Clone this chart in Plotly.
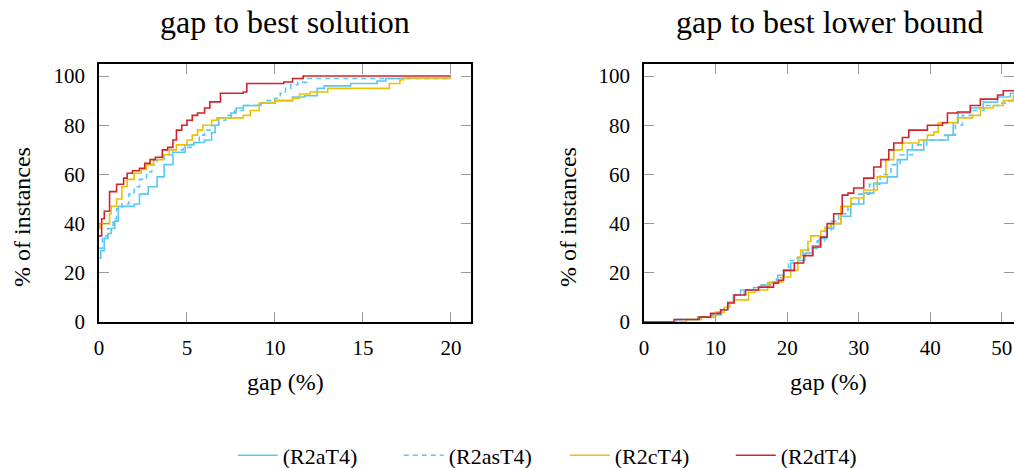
import plotly.graph_objects as go

# ---------------- data ----------------
series_names = ["(R2aT4)", "(R2asT4)", "(R2cT4)", "(R2dT4)"]

# left panel: gap to best solution
L_aT4_x = [0, 0.1, 0.3, 0.5, 0.7, 0.9, 1.1, 2.0, 2.3, 2.8, 3.3, 3.7, 4.2, 4.9, 5.4, 6.0, 6.4, 6.6, 6.8, 7.5, 7.8, 8.2, 9.2, 10.0, 11.0, 11.7, 12.4, 12.8, 14.3, 15.8, 16.3, 20.0]
L_aT4_y = [26, 29, 34, 36, 38, 41, 47, 48, 52, 55, 59, 64, 69, 72, 73, 74, 77, 80, 83, 85, 87, 88, 89, 90, 91.5, 92, 95, 96, 97, 98, 99, 99]

L_asT4_x = [0, 0.2, 0.5, 0.8, 1.0, 1.3, 1.7, 2.0, 2.3, 2.7, 3.0, 3.3, 3.7, 4.2, 4.8, 5.4, 5.7, 6.0, 6.4, 6.8, 7.2, 7.7, 8.2, 9.0, 9.5, 10.0, 10.3, 10.6, 10.9, 11.3, 11.8, 20.0]
L_asT4_y = [30, 35, 38, 42, 46, 48, 52, 55, 58, 61, 64, 66, 68, 70, 71, 73, 76, 78, 80, 82, 84, 86, 88, 89, 90, 91, 93, 95, 96.5, 97.5, 99, 99]

L_cT4_x = [0, 0.05, 0.6, 0.7, 1.0, 1.3, 1.6, 2.0, 2.4, 2.7, 3.1, 3.6, 4.0, 4.4, 5.0, 5.3, 5.6, 5.9, 6.4, 6.7, 8.2, 8.6, 9.1, 10.0, 11.0, 11.4, 12.0, 13.0, 16.1, 16.5, 17.1, 17.3, 20.0]
L_cT4_y = [38, 40, 44, 47, 50, 55, 58, 60.5, 62, 64, 66, 68, 70, 72, 74, 76, 78, 80, 82, 83, 84, 86, 89, 90, 91, 92.7, 93.5, 95, 95, 97, 98.4, 99.2, 99.2]

L_dT4_x = [0, 0.15, 0.3, 0.6, 1.0, 1.4, 1.6, 1.9, 2.3, 2.6, 2.9, 3.2, 3.6, 3.9, 4.2, 4.4, 4.7, 5.0, 5.3, 5.6, 6.0, 6.3, 6.9, 8.2, 8.4, 10.5, 11.0, 11.6, 20.0]
L_dT4_y = [35, 42, 45, 53, 56, 58.5, 60.5, 61.5, 62.5, 64.5, 66, 67, 70, 71, 74, 78, 80, 82, 84, 85, 87, 89.5, 93, 93.5, 97, 97.6, 99, 100, 100]

# right panel: gap to best lower bound
R_aT4_x = [0, 4.5, 7.5, 9.5, 10.8, 11.7, 12.5, 13.5, 15.3, 16.5, 17.7, 18.7, 19.6, 20.5, 21.5, 22.5, 23.5, 24.5, 25.5, 26.5, 27.5, 28.9, 30.7, 32.1, 34.0, 35.4, 36.8, 39.1, 42.5, 43.2, 43.9, 45.6, 47.4, 49.4, 51.2, 52.0]
R_aT4_y = [0, 1, 2, 3, 5, 8, 11, 13, 14, 15, 16, 19, 21, 24, 25, 28, 31, 34, 38, 40, 43, 48, 52.4, 56.5, 59, 66, 70, 74, 76, 81, 85, 87, 89.4, 91.5, 93, 93]

R_asT4_x = [0, 4.5, 7.5, 9.5, 10.8, 11.7, 12.5, 14.0, 16.0, 17.5, 18.5, 19.5, 20.2, 21.2, 22.2, 23.0, 24.2, 25.2, 26.2, 27.2, 28.5, 30.0, 31.5, 33.0, 34.5, 35.8, 37.5, 39.5, 42.0, 43.5, 44.5, 46.0, 47.5, 50.0, 51.0, 52.0]
R_asT4_y = [0, 1, 2, 3, 5, 8, 11, 13, 15, 16, 18, 21, 25, 26, 29, 30, 33, 37, 41, 44, 48, 52, 56, 60, 64, 68, 72, 74, 76, 80, 84, 86, 88, 89, 90, 90]

R_cT4_x = [0, 5.9, 8.0, 10.0, 11.2, 12.0, 12.6, 14.6, 15.5, 17.3, 18.0, 19.4, 20.5, 21.5, 21.9, 22.9, 23.3, 24.7, 25.3, 26.1, 27.5, 28.9, 30.7, 32.6, 33.8, 34.9, 36.1, 38.4, 39.6, 40.5, 41.1, 43.8, 45.9, 47.0, 48.8, 50.2, 51.6, 52.0]
R_cT4_y = [0, 1, 2, 4, 6, 8, 9, 12, 13, 16, 16.3, 18.3, 21, 26.4, 29.3, 32.7, 35, 37, 38.5, 40, 47, 50.4, 53.7, 59, 66, 70, 72.8, 74, 76, 77.2, 81, 83, 84, 87, 88, 90, 92, 92]

R_dT4_x = [0, 4.2, 7.7, 9.3, 10.7, 11.7, 12.6, 14.2, 16.0, 18.1, 18.8, 19.5, 21.0, 22.3, 23.6, 24.7, 25.6, 26.5, 27.7, 28.5, 29.3, 30.7, 32.1, 33.1, 34.2, 34.9, 36.1, 37.0, 39.6, 41.7, 42.4, 43.8, 45.6, 47.0, 49.4, 50.2, 52.0]
R_dT4_y = [0, 1, 2, 3.5, 5, 7.7, 11, 13, 14.2, 15.8, 17, 21, 24, 27, 30.5, 34.5, 40, 44, 51.6, 52.4, 54.5, 58.5, 63, 66, 70, 72.8, 75, 78, 80, 81, 85, 85.4, 88, 90.6, 92.3, 94, 94]

left_x = [L_aT4_x, L_asT4_x, L_cT4_x, L_dT4_x]
left_y = [L_aT4_y, L_asT4_y, L_cT4_y, L_dT4_y]
right_x = [R_aT4_x, R_asT4_x, R_cT4_x, R_dT4_x]
right_y = [R_aT4_y, R_asT4_y, R_cT4_y, R_dT4_y]

left_ticks = [0, 5, 10, 15, 20]
right_ticks = [0, 10, 20, 30, 40, 50]
y_ticks = [0, 20, 40, 60, 80, 100]

# ---------------- style ----------------
colors = ["#5cc6f4", "#5cc6f4", "#ecc100", "#d3222c"]
dashes = ["solid", "5px,4px", "solid", "solid"]
FONT = "'Liberation Serif', 'Times New Roman', Times, serif"

fig = go.Figure()
for i, name in enumerate(series_names):
    fig.add_trace(go.Scatter(x=left_x[i], y=left_y[i], mode="lines", line_shape="hv",
                             line=dict(color=colors[i], width=1.6, dash=dashes[i]),
                             name=name, legendgroup=name, xaxis="x", yaxis="y"))
for i, name in enumerate(series_names):
    fig.add_trace(go.Scatter(x=right_x[i], y=right_y[i], mode="lines", line_shape="hv",
                             line=dict(color=colors[i], width=1.6, dash=dashes[i]),
                             name=name, legendgroup=name, showlegend=False,
                             xaxis="x2", yaxis="y2"))

ax_common = dict(showline=True, linecolor="black", linewidth=1.5, mirror="ticks",
                 ticks="inside", ticklen=10, tickcolor="#999999", tickwidth=1.2,
                 showgrid=False, zeroline=False, automargin=False,
                 tickfont=dict(family=FONT, size=21, color="black"))

y_dom = [146 / 468, 404 / 468]
fig.update_layout(
    width=1014, height=468,
    margin=dict(l=0, r=0, t=0, b=0, autoexpand=False),
    paper_bgcolor="white", plot_bgcolor="white",
    font=dict(family=FONT, color="black"),
    xaxis=dict(domain=[99 / 1014, 471 / 1014], range=[0, 21.14], tickvals=left_ticks,
               ticklabelstandoff=6, anchor="y", **ax_common),
    yaxis=dict(domain=y_dom, range=[0, 104.9], tickvals=y_ticks, ticklabelstandoff=8,
               anchor="x", **ax_common),
    xaxis2=dict(domain=[644 / 1014, 1.0], range=[0, 51.7], tickvals=right_ticks,
                ticklabelstandoff=6, anchor="y2", **ax_common),
    yaxis2=dict(domain=y_dom, range=[0, 104.9], tickvals=y_ticks, ticklabelstandoff=8,
                anchor="x2", **ax_common),
    showlegend=True,
    legend=dict(orientation="h", x=0.557, xanchor="center", y=-0.018, yanchor="bottom",
                font=dict(family=FONT, size=22, color="black"),
                bgcolor="rgba(0,0,0,0)", itemwidth=40, entrywidth=111, tracegroupgap=0),
)

ann = dict(xref="paper", yref="paper", showarrow=False)
title_font = dict(family=FONT, size=32, color="black")
label_font = dict(family=FONT, size=24, color="black")
fig.add_annotation(text="gap to best solution", x=285 / 1014, y=1 - 22 / 468,
                   xanchor="center", yanchor="middle", font=title_font, **ann)
fig.add_annotation(text="gap to best lower bound", x=830 / 1014, y=1 - 22 / 468,
                   xanchor="center", yanchor="middle", font=title_font, **ann)
fig.add_annotation(text="gap (%)", x=285 / 1014, y=1 - 382 / 468,
                   xanchor="center", yanchor="middle", font=label_font, **ann)
fig.add_annotation(text="gap (%)", x=828 / 1014, y=1 - 382 / 468,
                   xanchor="center", yanchor="middle", font=label_font, **ann)
fig.add_annotation(text="% of instances", x=22 / 1014, y=1 - 217 / 468, textangle=-90,
                   xanchor="center", yanchor="middle", font=label_font, **ann)
fig.add_annotation(text="% of instances", x=568 / 1014, y=1 - 217 / 468, textangle=-90,
                   xanchor="center", yanchor="middle", font=label_font, **ann)

fig.write_html("out.html", config={"displayModeBar": False},
               post_script="document.body.style.margin='0';document.body.style.overflow='hidden';")
